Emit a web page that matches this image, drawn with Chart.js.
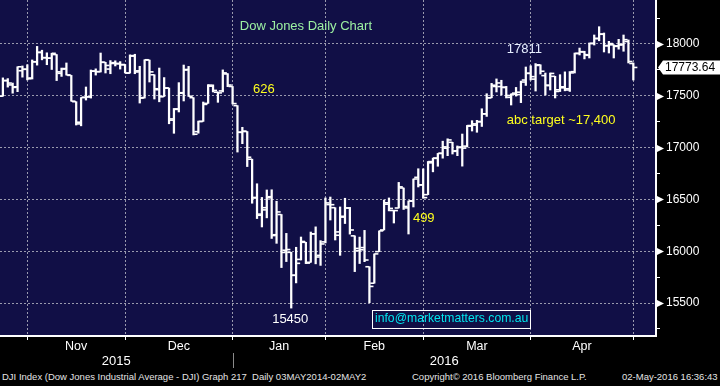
<!DOCTYPE html>
<html>
<head>
<meta charset="utf-8">
<script src="https://cdn.jsdelivr.net/npm/chart.js@4.4.1/dist/chart.umd.min.js"></script>
<style>
  html, body { margin: 0; padding: 0; background: #000; }
  #wrap { position: relative; width: 720px; height: 368px; }
  #foot { position: relative; width: 720px; height: 18px; color: #e4e4e4;
          font: 9.5px "Liberation Sans", Arial, sans-serif; }
  #foot span { position: absolute; top: 4px; line-height: 10px; white-space: nowrap; }
</style>
</head>
<body>
<div id="wrap"><canvas id="chart" width="720" height="368"></canvas></div>
<div id="foot">
  <span style="left:2px">DJI Index (Dow Jones Industrial Average - DJI) Graph 217&nbsp; Daily 03MAY2014-02MAY2</span>
  <span style="left:412px">Copyright© 2016 Bloomberg Finance L.P.</span>
  <span style="left:622px">02-May-2016 16:36:43</span>
</div>
<script>
// trading days shown (Oct 23 2015 .. Apr 29 2016)
const days = [
  '2015-10-23','2015-10-26','2015-10-27','2015-10-28','2015-10-29','2015-10-30',
  '2015-11-02','2015-11-03','2015-11-04','2015-11-05','2015-11-06','2015-11-09','2015-11-10','2015-11-11','2015-11-12','2015-11-13',
  '2015-11-16','2015-11-17','2015-11-18','2015-11-19','2015-11-20','2015-11-23','2015-11-24','2015-11-25','2015-11-27','2015-11-30',
  '2015-12-01','2015-12-02','2015-12-03','2015-12-04','2015-12-07','2015-12-08','2015-12-09','2015-12-10','2015-12-11','2015-12-14',
  '2015-12-15','2015-12-16','2015-12-17','2015-12-18','2015-12-21','2015-12-22','2015-12-23','2015-12-24','2015-12-28','2015-12-29',
  '2015-12-30','2015-12-31',
  '2016-01-04','2016-01-05','2016-01-06','2016-01-07','2016-01-08','2016-01-11','2016-01-12','2016-01-13','2016-01-14','2016-01-15',
  '2016-01-19','2016-01-20','2016-01-21','2016-01-22','2016-01-25','2016-01-26','2016-01-27','2016-01-28','2016-01-29',
  '2016-02-01','2016-02-02','2016-02-03','2016-02-04','2016-02-05','2016-02-08','2016-02-09','2016-02-10','2016-02-11','2016-02-12',
  '2016-02-16','2016-02-17','2016-02-18','2016-02-19','2016-02-22','2016-02-23','2016-02-24','2016-02-25','2016-02-26','2016-02-29',
  '2016-03-01','2016-03-02','2016-03-03','2016-03-04','2016-03-07','2016-03-08','2016-03-09','2016-03-10','2016-03-11','2016-03-14',
  '2016-03-15','2016-03-16','2016-03-17','2016-03-18','2016-03-21','2016-03-22','2016-03-23','2016-03-24','2016-03-28','2016-03-29',
  '2016-03-30','2016-03-31',
  '2016-04-01','2016-04-04','2016-04-05','2016-04-06','2016-04-07','2016-04-08','2016-04-11','2016-04-12','2016-04-13','2016-04-14',
  '2016-04-15','2016-04-18','2016-04-19','2016-04-20','2016-04-21','2016-04-22','2016-04-25','2016-04-26','2016-04-27','2016-04-28',
  '2016-04-29'
];

const opens = [
  17496,17647,17605,17587,17742,17756,
  17672,17828,17920,17868,17863,17898,17717,17763,17697,17443,17229,17486,17490,17739,17733,17823,17758,17820,17808,17802,
  17719,17883,17741,17483,17845,17703,17559,17493,17575,17277,17374,17530,17754,17482,17154,17253,17427,17593,17535,17547,17711,17590,
  17405,17147,17155,16888,16519,16358,16420,16526,16159,16354,16009,15989,15768,15921,16086,15893,16168,15960,16090,
  16450,16420,16186,16329,16417,16148,16005,16035,15850,15691,15996,16205,16467,16393,16417,16610,16418,16484,16713,16640,
  16546,16853,16896,16945,16994,17051,16969,17006,17014,17207,17217,17249,17326,17481,17590,17589,17580,17485,17526,17512,17652,17717,
  17661,17799,17695,17598,17688,17558,17587,17568,17733,17910,17923,17891,18007,18052,18094,17985,17992,17982,17997,18024,17812
];
const highs = [
  17673,17666,17623,17780,17788,17800,
  17846,17977,17940,17915,17911,17898,17768,17817,17697,17443,17483,17585,17749,17760,17913,17823,17840,17838,17830,17802,
  17895,17901,17785,17848,17845,17703,17768,17676,17575,17378,17627,17797,17784,17482,17256,17440,17608,17606,17536,17750,17714,17590,
  17405,17196,17155,16888,16651,16519,16591,16593,16482,16354,16172,15989,16038,16137,16086,16185,16235,16102,16514,
  16523,16420,16427,16511,16423,16148,16136,16201,15850,15974,16196,16494,16514,16393,16664,16610,16485,16697,16796,16795,
  16866,16899,16944,17062,17085,17051,17016,17131,17214,17260,17263,17375,17520,17620,17663,17650,17591,17519,17581,17642,17778,17790,
  17811,17799,17720,17720,17688,17704,17731,17734,17913,17961,17930,18010,18087,18167,18106,18026,17992,18045,18087,18039,17817
];
const lows = [
  17496,17584,17525,17540,17680,17653,
  17662,17796,17847,17800,17754,17647,17687,17700,17448,17218,17210,17459,17478,17700,17730,17720,17713,17788,17758,17720,
  17719,17713,17430,17478,17633,17469,17442,17493,17230,17138,17344,17450,17494,17122,17139,17253,17427,17537,17437,17537,17588,17421,
  16957,17038,16817,16463,16315,16234,16322,16123,16076,15842,15900,15451,15694,15915,15880,15893,15878,15863,16080,
  16301,16108,15960,16267,16165,15803,15881,15899,15503,15691,15996,16205,16389,16272,16417,16403,16166,16427,16620,16511,
  16546,16766,16820,16898,16922,16938,16922,16821,17006,17160,17148,17204,17301,17481,17537,17508,17479,17411,17497,17434,17600,17652,
  17546,17710,17508,17556,17479,17541,17548,17542,17720,17894,17856,17865,17990,18031,17923,17913,17865,17950,17930,17817,17652
];
const closes = [
  17647,17623,17581,17780,17756,17664,
  17829,17918,17868,17863,17910,17731,17758,17702,17448,17245,17483,17490,17737,17733,17824,17793,17812,17813,17799,17720,
  17888,17730,17478,17848,17731,17568,17492,17575,17265,17369,17525,17749,17496,17129,17252,17417,17603,17552,17528,17721,17604,17425,
  17149,17159,16907,16514,16347,16399,16516,16151,16379,15988,16016,15767,15883,16094,15885,16167,15944,16070,16466,
  16449,16154,16337,16417,16205,16027,16014,15915,15660,15974,16196,16454,16413,16392,16621,16432,16485,16697,16640,16517,
  16865,16899,16944,17007,17074,16964,17000,16995,17213,17229,17252,17326,17481,17602,17624,17583,17503,17516,17535,17633,17717,17685,
  17793,17737,17603,17716,17542,17577,17556,17721,17908,17926,17897,18004,18054,18096,17983,18004,17977,17990,18042,17831,17773.64
];

const monthNames = ['Jan','Feb','Mar','Apr','May','Jun','Jul','Aug','Sep','Oct','Nov','Dec'];
const yearLabels = ['2015', '2016'];
const priceTicks = [15250, 15500, 15750, 16000, 16250, 16500, 16750, 17000, 17250, 17500, 17750, 18000, 18250];

const notes = [
  { text: 'Dow Jones Daily Chart', x: 62.0, y: 18174, color: '#9cf0a2', align: 'center' },
  { text: '626', x: 51.2, y: 17566, color: '#ffff1e', align: 'left' },
  { text: '17811', x: 103.1, y: 17952, color: '#e6eeff', align: 'left' },
  { text: 'abc target ~17,400', x: 103.1, y: 17266, color: '#ffff1e', align: 'left' },
  { text: '499', x: 83.9, y: 16320, color: '#ffff1e', align: 'left' },
  { text: '15450', x: 55.1, y: 15346, color: '#ffffff', align: 'left' }
];
const email = { text: 'info@marketmatters.com.au', x: 75.6, y: 15350 };

// month ends -> grid lines, month/year label positions
const monthOf = d => +d.slice(5, 7);
const monthEnds = [];
days.forEach((d, i) => {
  if (i === days.length - 1 || monthOf(d) !== monthOf(days[i + 1])) monthEnds.push(i);
});
const monthMids = [], monthTickLabels = [];
for (let k = 1; k < monthEnds.length; k++) {
  monthMids.push((monthEnds[k - 1] + monthEnds[k]) / 2);
  monthTickLabels.push(monthNames[monthOf(days[monthEnds[k]]) - 1]);
}
const yearEnd = days.findIndex((d, i) => i < days.length - 1 && d.slice(0, 4) !== days[i + 1].slice(0, 4));

const xMin = -0.59, xMax = 133.64;
const yMin = 15181.5, yMax = 18424.7;
const yearMids = [(xMin + yearEnd) / 2, (yearEnd + xMax) / 2];

const FONT = '"Liberation Sans", Arial, sans-serif';
const plotBg = '#110f46';
const gridCol = '#9a9aae';
const tickOff = 0.42;

const decor = {
  id: 'decor',
  beforeDraw(chart) {
    const { ctx, chartArea: a } = chart;
    ctx.save();
    ctx.fillStyle = plotBg;
    ctx.fillRect(a.left, a.top, a.right - a.left, a.bottom - a.top);
    ctx.restore();
  },
  afterDraw(chart) {
    const { ctx, chartArea: a, scales: { x, y } } = chart;
    ctx.save();
    // arrows on the major price ticks
    ctx.fillStyle = '#fff';
    priceTicks.filter(v => v % 500 === 0).forEach(v => {
      const py = Math.round(y.getPixelForValue(v)) + 0.5;
      ctx.beginPath();
      ctx.moveTo(a.right + 1, py - 3.5);
      ctx.lineTo(a.right + 8, py);
      ctx.lineTo(a.right + 1, py + 3.5);
      ctx.closePath();
      ctx.fill();
    });
    // last price tag
    const last = closes[closes.length - 1];
    const ly = y.getPixelForValue(last);
    ctx.beginPath();
    ctx.moveTo(a.right + 2, ly);
    ctx.lineTo(a.right + 7, ly - 7);
    ctx.lineTo(720, ly - 7);
    ctx.lineTo(720, ly + 7);
    ctx.lineTo(a.right + 7, ly + 7);
    ctx.closePath();
    ctx.fill();
    ctx.fillStyle = '#000';
    ctx.font = '12px ' + FONT;
    ctx.textBaseline = 'middle';
    ctx.textAlign = 'left';
    ctx.fillText(last.toFixed(2), a.right + 9, ly + 0.5);
    // year divider under the axis
    const yx = Math.round(x.getPixelForValue(yearEnd)) + 0.5;
    ctx.strokeStyle = '#8a8a8a';
    ctx.lineWidth = 1;
    ctx.beginPath();
    ctx.moveTo(yx, a.bottom + 17);
    ctx.lineTo(yx, chart.height);
    ctx.stroke();
    // annotations
    ctx.font = '13px ' + FONT;
    notes.forEach(n => {
      ctx.fillStyle = n.color;
      ctx.textAlign = n.align;
      ctx.fillText(n.text, x.getPixelForValue(n.x), y.getPixelForValue(n.y));
    });
    ctx.font = '12.2px ' + FONT;
    ctx.textAlign = 'left';
    const ex = Math.round(x.getPixelForValue(email.x)) + 0.5;
    const ey = y.getPixelForValue(email.y);
    const ew = ctx.measureText(email.text).width;
    ctx.strokeStyle = '#fff';
    ctx.strokeRect(ex, Math.round(ey - 9) + 0.5, Math.round(ew + 5), 18);
    ctx.fillStyle = '#00e6ee';
    ctx.fillText(email.text, ex + 2.5, ey + 0.5);
    ctx.restore();
  }
};

const xCommon = { type: 'linear', min: xMin, max: xMax, offset: false };

new Chart(document.getElementById('chart'), {
  type: 'bar',
  data: {
    datasets: [
      {
        type: 'bar',
        data: days.map((d, i) => ({ x: i, y: [lows[i], highs[i]] })),
        backgroundColor: '#ffffff',
        borderWidth: 0,
        barThickness: 1.6,
        grouped: false
      },
      {
        type: 'scatter',
        data: opens.map((v, i) => ({ x: i - tickOff, y: v })),
        pointStyle: 'line',
        pointRadius: 2,
        pointBorderWidth: 1.6,
        borderColor: '#ffffff',
        backgroundColor: '#ffffff'
      },
      {
        type: 'scatter',
        data: closes.map((v, i) => ({ x: i + tickOff, y: v })),
        pointStyle: 'line',
        pointRadius: 2,
        pointBorderWidth: 1.6,
        borderColor: '#ffffff',
        backgroundColor: '#ffffff'
      }
    ]
  },
  options: {
    responsive: false,
    animation: false,
    events: [],
    layout: { padding: 0, autoPadding: false },
    plugins: { legend: { display: false }, tooltip: { enabled: false } },
    scales: {
      x: {
        ...xCommon,
        position: 'bottom',
        weight: 0,
        afterBuildTicks: s => { s.ticks = monthEnds.map(v => ({ value: v })); },
        afterFit: s => { s.height = 4; s.paddingLeft = 0; s.paddingRight = 0; },
        ticks: { display: false },
        grid: { offset: false, color: gridCol, lineWidth: 1, drawTicks: true, tickLength: 4, tickColor: '#fff', tickWidth: 1 },
        border: { display: true, color: '#fff', width: 2, dash: [2, 2] }
      },
      xmon: {
        ...xCommon,
        position: 'bottom',
        weight: 1,
        afterBuildTicks: s => { s.ticks = monthMids.map(v => ({ value: v })); },
        afterFit: s => { s.height = 14; s.paddingLeft = 0; s.paddingRight = 0; },
        grid: { display: false, drawTicks: false },
        border: { display: false },
        ticks: { color: '#fff', font: { family: FONT, size: 12.5 }, padding: -1, maxRotation: 0, autoSkip: false,
                 callback: (v, i) => monthTickLabels[i] }
      },
      xyear: {
        ...xCommon,
        position: 'bottom',
        weight: 2,
        afterBuildTicks: s => { s.ticks = yearMids.map(v => ({ value: v })); },
        afterFit: s => { s.height = 14; s.paddingLeft = 0; s.paddingRight = 0; },
        grid: { display: false, drawTicks: false },
        border: { display: false },
        ticks: { color: '#fff', font: { family: FONT, size: 13 }, padding: 0, maxRotation: 0, autoSkip: false,
                 callback: (v, i) => yearLabels[i] }
      },
      y: {
        type: 'linear',
        position: 'right',
        min: yMin,
        max: yMax,
        beginAtZero: false,
        afterBuildTicks: s => { s.ticks = priceTicks.map(v => ({ value: v })); },
        afterFit: s => { s.width = 64; s.paddingTop = 0; s.paddingBottom = 0; },
        ticks: { color: '#fff', font: { family: FONT, size: 12 }, padding: 6,
                 callback: v => (v % 500 === 0 ? String(v) : '') },
        grid: {
          color: c => (c.tick && c.tick.value % 500 === 0 ? gridCol : 'rgba(0,0,0,0)'),
          lineWidth: 1, drawTicks: true, tickLength: 4, tickColor: '#fff', tickWidth: 1
        },
        border: { display: true, color: '#fff', width: 2, dash: [2, 2] }
      }
    }
  },
  plugins: [decor]
});
</script>
</body>
</html>
